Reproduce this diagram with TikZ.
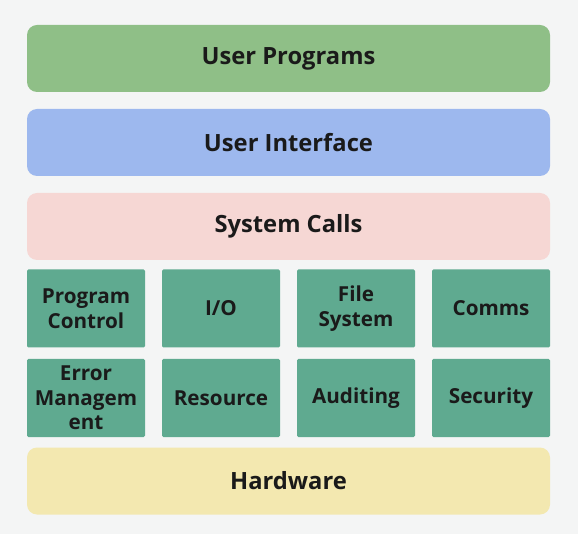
\documentclass[tikz,border=0pt]{standalone}
\usepackage{fontspec}
\setmainfont{Open Sans}
\definecolor{bgc}{HTML}{F4F5F5}
\definecolor{upc}{HTML}{8FBF87}
\definecolor{uic}{HTML}{9DB8EE}
\definecolor{scc}{HTML}{F6D7D4}
\definecolor{hwc}{HTML}{F3E8B0}
\definecolor{cellc}{HTML}{5FAA90}
\definecolor{txtc}{HTML}{1A1A1A}
\begin{document}
\begin{tikzpicture}[x=0.75pt,y=-0.75pt,
  layer/.style={rounded corners=7.5pt, minimum width=392.25pt, minimum height=50.25pt,
    inner sep=0pt, text=txtc, font=\bfseries\fontsize{17.8pt}{21pt}\selectfont},
  cell/.style={fill=cellc, rounded corners=1pt, minimum width=88.5pt, minimum height=58.5pt,
    inner sep=0pt, align=center, text=txtc, font=\bfseries\fontsize{15.5pt}{18.4pt}\selectfont}]
\fill[bgc] (0,0) rectangle (578,534);
\useasboundingbox (0,0) rectangle (578,534);
\node[layer, fill=upc] (up) at (288.5,58.5) {User Programs};
\node[layer, fill=uic] (ui) at (288.5,142.5) {User Interface};
\node[layer, fill=scc] (sc) at (288.5,226.5) {System Calls};
\node[cell] (pc) at (86,308.5) {Program\\Control};
\node[cell] (io) at (221,308.5) {I/O};
\node[cell] (fs) at (356,308.5) {File\\System};
\node[cell] (cm) at (491,308.5) {Comms};
\node[cell] (em) at (86,398) {Error\\Managem\\ent};
\node[cell] (rs) at (221,398) {Resource};
\node[cell] (au) at (356,398) {Auditing};
\node[cell] (se) at (491,398) {Security};
\node[layer, fill=hwc] (hw) at (288.5,481) {Hardware};
\end{tikzpicture}
\end{document}
